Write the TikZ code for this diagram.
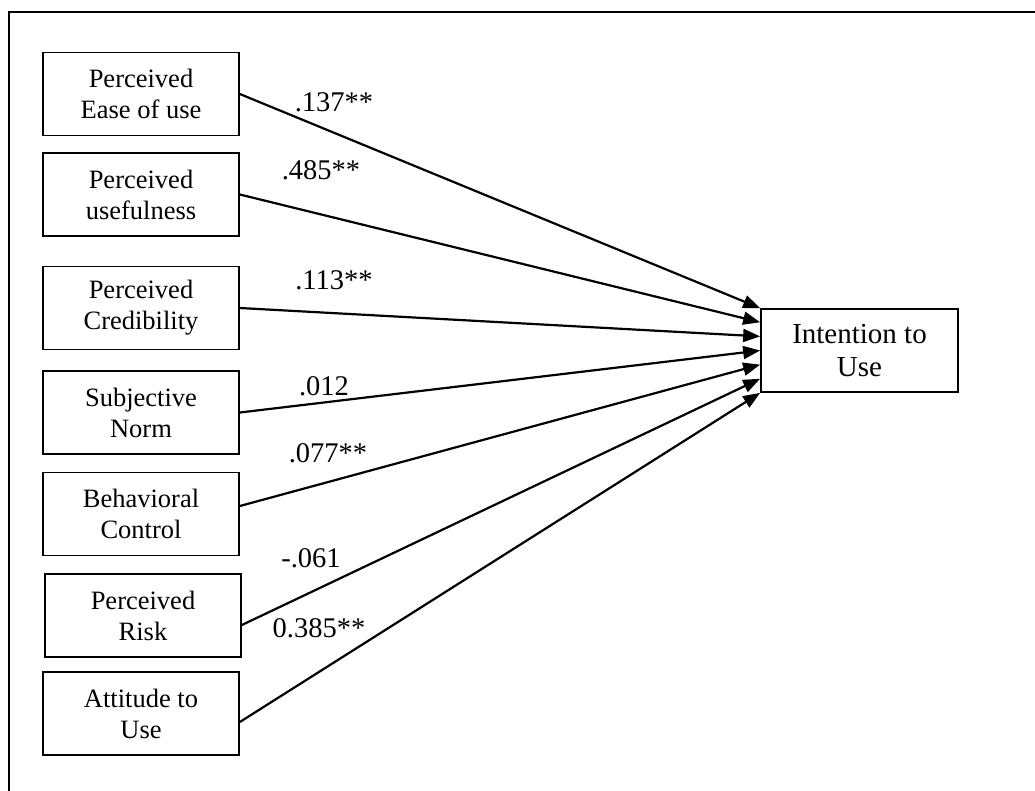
\documentclass[tikz,border=0pt]{standalone}
\usepackage{fontspec}
\setmainfont{Liberation Serif}
\usetikzlibrary{arrows.meta,calc}
\begin{document}
\begin{tikzpicture}[x=1pt,y=-1pt,
  var/.style={draw, line width=1.7pt, minimum width=196pt, minimum height=83pt, inner sep=0pt, align=center, font=\fontsize{26.5}{31}\selectfont},
  coef/.style={font=\fontsize{28.5}{33}\selectfont, inner sep=0pt},
  link/.style={line width=2.2pt, -{Triangle[length=17pt,width=13pt]}}]
\useasboundingbox (0,0) rectangle (1035,790);
\draw[line width=1.8pt] (9,800) -- (9,12) -- (1045,12);

\node[var] (b1) at (141,94) {Perceived\\Ease of use};
\node[var] (b2) at (141,194.5) {Perceived\\usefulness};
\node[var] (b3) at (141,308) {Perceived\\Credibility};
\node[var] (b4) at (141,412.5) {Subjective\\Norm};
\node[var] (b5) at (141,514) {Behavioral\\Control};
\node[var] (b6) at (143,615.5) {Perceived\\Risk};
\node[var] (b7) at (141,713.5) {Attitude to\\Use};
\node[var, minimum width=197pt, font=\fontsize{29}{33}\selectfont] (iu) at (859.5,350.5) {Intention to\\Use};

\draw[link] (b1.east) -- ($(iu.north west)!0/6!(iu.south west)$);
\draw[link] (b2.east) -- ($(iu.north west)!1/6!(iu.south west)$);
\draw[link] (b3.east) -- ($(iu.north west)!2/6!(iu.south west)$);
\draw[link] (b4.east) -- ($(iu.north west)!3/6!(iu.south west)$);
\draw[link] ([yshift=8pt]b5.east) -- ($(iu.north west)!4/6!(iu.south west)$);
\draw[link] ([yshift=-9.5pt]b6.east) -- ($(iu.north west)!5/6!(iu.south west)$);
\draw[link] ([yshift=-8.5pt]b7.east) -- ($(iu.north west)!6/6!(iu.south west)$);

\node[coef] (c1) at (334,102) {.137**};
\node[coef] (c2) at (321,170) {.485**};
\node[coef] (c3) at (334,280) {.113**};
\node[coef] (c4) at (324,386) {.012};
\node[coef] (c5) at (328,453) {.077**};
\node[coef] (c6) at (311,558) {-.061};
\node[coef] (c7) at (319,628) {0.385**};
\end{tikzpicture}
\end{document}
